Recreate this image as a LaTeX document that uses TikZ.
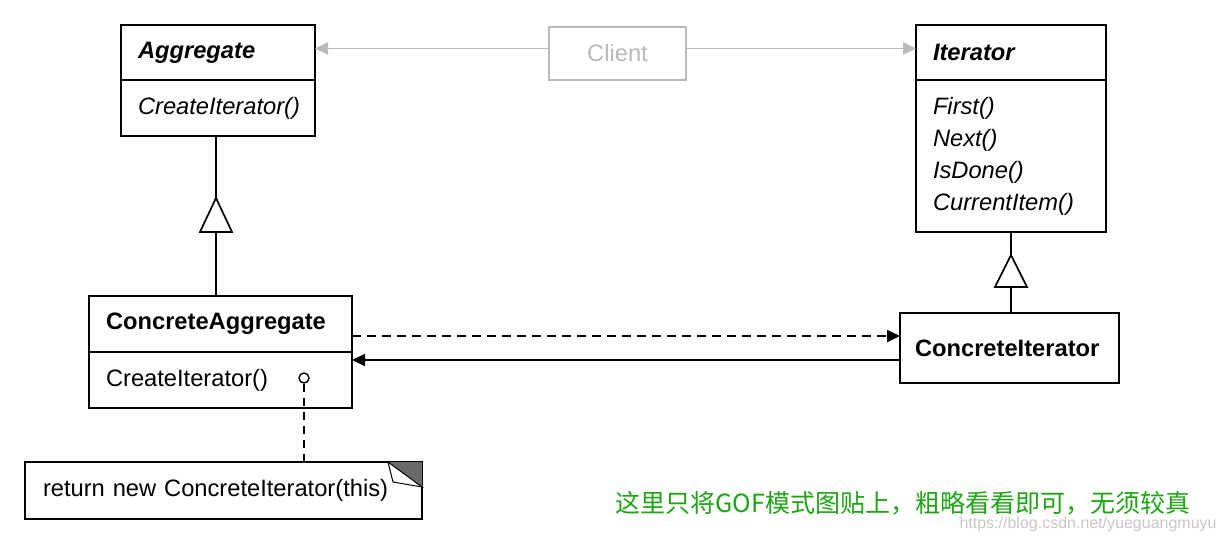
\documentclass[tikz,border=0pt]{standalone}
\usepackage{fontspec}
\setmainfont{Liberation Sans}
\newfontfamily\cjk{Noto Sans CJK SC}
\usepackage{tikz}
\usetikzlibrary{positioning,arrows.meta}

\definecolor{clientGray}{RGB}{185,185,185}
\definecolor{hintGreen}{RGB}{30,165,20}
\definecolor{foldGray}{RGB}{105,105,105}

\tikzset{
  classbox/.style={draw, line width=1.7pt, outer sep=0pt, rectangle, anchor=north west, inner xsep=17pt, inner ysep=0pt, align=left, font=\fontsize{23.7}{32}\selectfont},
  notebox/.style={classbox, line width=1.5pt, inner xsep=18pt},
  umlline/.style={line width=1.7pt},
  opdot/.style={draw, circle, line width=1.4pt, inner sep=0pt, minimum size=10pt, fill=white}
}

\begin{document}
\begin{tikzpicture}[x=1pt,y=-1pt,>={Triangle[length=13pt,width=12pt]}]
\useasboundingbox (0,0) rectangle (1224,542);
% abstract classes
\node[classbox, text width=160pt, minimum height=55pt] (agg) at (121,25) {\textbf{\textit{Aggregate}}};
\node[classbox, text width=160pt, minimum height=56pt, below=0pt of agg] (aggops) {\textit{CreateIterator()}};
\node[classbox, text width=156pt, minimum height=55pt] (iter) at (916,25) {\textbf{\textit{Iterator}}};
\node[classbox, text width=156pt, minimum height=152pt, below=0pt of iter] (iterops) {\textit{First()}\\\textit{Next()}\\\textit{IsDone()}\\\textit{CurrentItem()}};
% client
\node[classbox, draw=clientGray, text=clientGray, align=center, text width=103pt, minimum height=53pt] (client) at (549,27) {Client};
% concrete classes
\node[classbox, text width=229pt, minimum height=56pt] (cagg) at (89,296) {\textbf{ConcreteAggregate}};
\node[classbox, text width=229pt, minimum height=56pt, below=0pt of cagg] (caggops) {CreateIterator()};
\node[classbox, inner xsep=15pt, text width=189pt, minimum height=70pt] (citer) at (900,313) {\textbf{ConcreteIterator}};
% note
\node[notebox, text width=361pt, minimum height=57pt] (note) at (25,462) {return new ConcreteIterator(this)};
\fill[foldGray] ([xshift=-34pt]note.north east) -- (note.north east) -- ([yshift=-25pt]note.north east) -- cycle;
\draw[line width=1pt, fill=white] ([xshift=-34pt]note.north east) -- ([xshift=-29pt,yshift=-20pt]note.north east) -- ([yshift=-25pt]note.north east) -- cycle;
\node[opdot] (odot) at ([xshift=-48pt,yshift=2pt]caggops.east) {};
\draw[umlline, line width=1.5pt, dashed, dash pattern=on 8pt off 6pt] (odot.south) -- (odot.south |- note.north);

% client associations
\draw[umlline, clientGray, ->] ([yshift=5pt]client.west) -- ([yshift=5pt]client.west -| agg.east);
\draw[umlline, clientGray, ->] ([yshift=5pt]client.east) -- ([yshift=5pt]client.east -| iter.west);

% inheritance
\coordinate (aggtip) at (216,198);
\draw[umlline] (aggtip |- aggops.south) -- (aggtip);
\draw[umlline, fill=white] (aggtip) -- ++(-16,34) -- ++(32,0) -- cycle;
\draw[umlline] ([yshift=-34pt]aggtip) -- (aggtip |- cagg.north);
\coordinate (itertip) at (1011,255);
\draw[umlline] (itertip |- iterops.south) -- (itertip);
\draw[umlline, fill=white] (itertip) -- ++(-16,32) -- ++(32,0) -- cycle;
\draw[umlline] ([yshift=-32pt]itertip) -- (itertip |- citer.north);

% create / reference
\draw[umlline, dashed, dash pattern=on 9pt off 6pt, ->] ([yshift=12pt]citer.west -| cagg.east) -- ([yshift=12pt]citer.west);
\draw[umlline, ->] ([yshift=-12pt]citer.west) -- ([yshift=-12pt]citer.west -| cagg.east);

% remark
\node[anchor=west, text=hintGreen, font=\cjk\fontsize{25}{30}\selectfont] (hint) at (612,503) {这里只将GOF模式图贴上，粗略看看即可，无须较真};
\node[anchor=west, text=black!22, font=\fontsize{16}{18}\selectfont] (mark) at (956,524) {https://blog.csdn.net/yueguangmuyu};
\end{tikzpicture}
\end{document}
